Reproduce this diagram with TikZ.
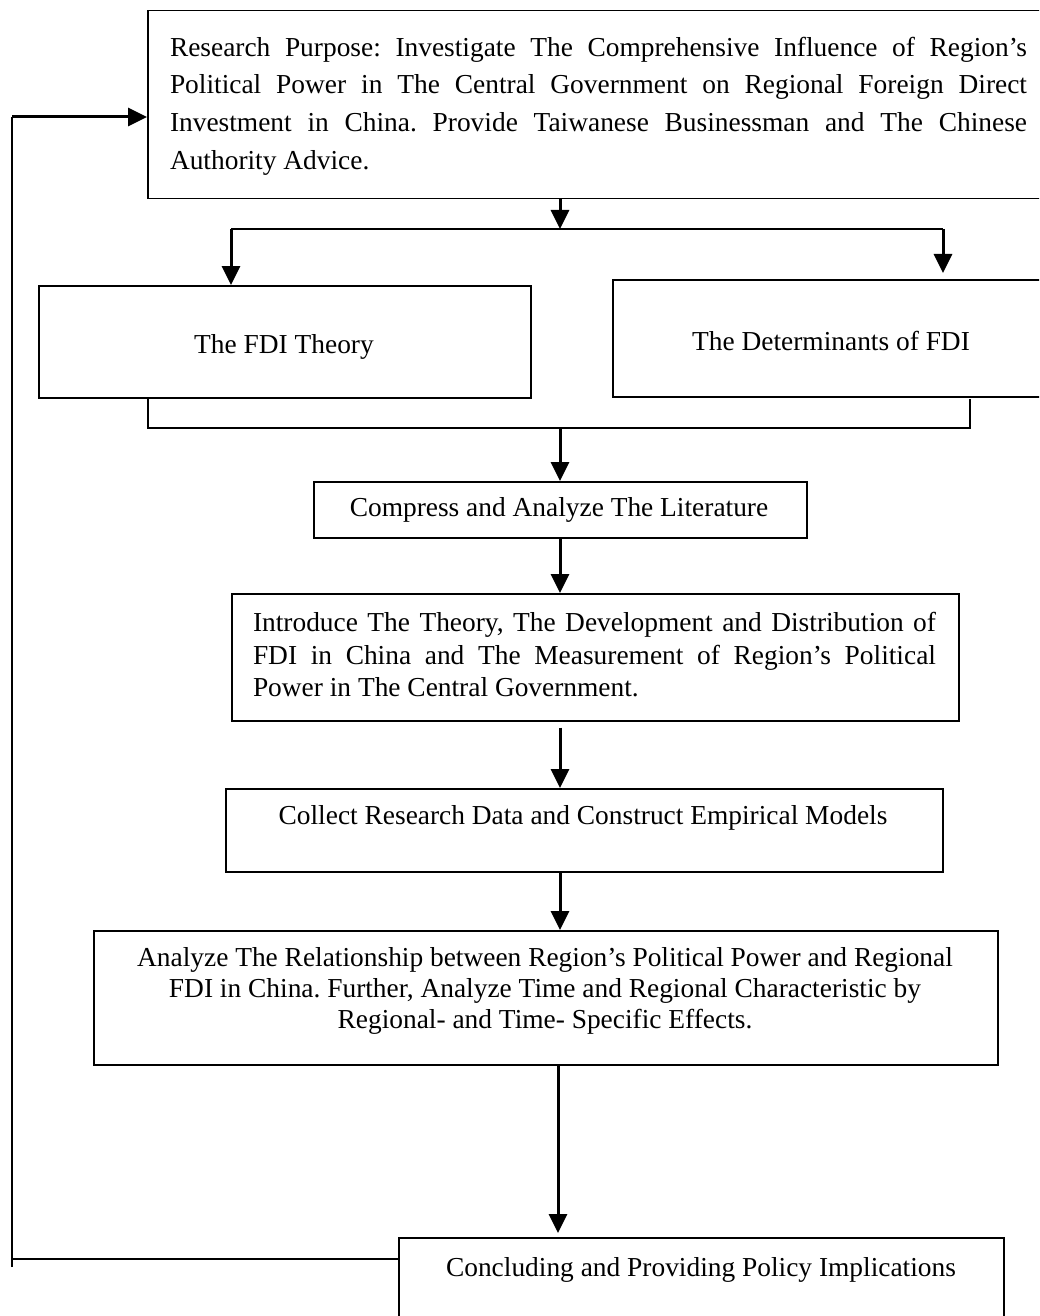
\documentclass[tikz,border=0pt]{standalone}
\usepackage{fontspec}
\setmainfont{Liberation Serif}
\usetikzlibrary{arrows.meta,calc}
\begin{document}
\frenchspacing
\begin{tikzpicture}[x=0.5pt,y=-0.5pt,
  box/.style={draw, line width=0.75pt, inner sep=0pt, anchor=north west},
  txt/.style={inner sep=0pt, font=\fontsize{13.7}{16}\selectfont},
  arr/.style={line width=1.5pt, -{Triangle[length=9.5pt,width=9pt]}},
  thinline/.style={line width=0.75pt},
  fbline/.style={line width=0.6pt}]
\useasboundingbox (0,0) rectangle (1039,1316);
\clip (0,0) rectangle (1039,1316);
% boxes
\node[box, minimum width=451.5pt, minimum height=94pt] (top) at (147,10) {};
\node[box, minimum width=246pt, minimum height=56pt] (fdi) at (38,285) {};
\node[box, minimum width=219pt, minimum height=58.5pt] (det) at (612,279) {};
\node[box, minimum width=246.5pt, minimum height=28pt] (comp) at (313,481) {};
\node[box, minimum width=363.5pt, minimum height=63.5pt] (intro) at (231,593) {};
\node[box, minimum width=358.5pt, minimum height=41.5pt] (coll) at (225,788) {};
\node[box, minimum width=452pt, minimum height=67pt] (anal) at (93,930) {};
\node[box, minimum width=302.5pt, minimum height=55pt] (concl) at (398,1237) {};
% texts
\node[txt, text width=428.5pt, align=justify, font=\fontsize{13.7}{18.85}\selectfont] (toptxt) at (598.5,106) {Research Purpose: Investigate The Comprehensive Influence of Region’s\linebreak Political Power in The Central Government on Regional Foreign Direct\linebreak Investment in China. Provide Taiwanese Businessman and The Chinese\linebreak Authority Advice.};
\node[txt] (fditxt) at (284,347) {The FDI Theory};
\node[txt] (dettxt) at (831,341) {The Determinants of FDI};
\node[txt] (comptxt) at (559,510) {Compress and Analyze The Literature};
\node[txt, text width=341.5pt, align=justify, font=\fontsize{13.7}{16.25}\selectfont] (introtxt) at (594.5,655) {Introduce The Theory, The Development and Distribution of\linebreak FDI in China and The Measurement of Region’s Political\linebreak Power in The Central Government.};
\node[txt] (colltxt) at (583,818) {Collect Research Data and Construct Empirical Models};
\node[txt, align=center, font=\fontsize{13.7}{15.5}\selectfont] (analtxt) at (545,991) {Analyze The Relationship between Region’s Political Power and Regional\\FDI in China. Further, Analyze Time and Regional Characteristic by\\Regional- and Time- Specific Effects.};
\node[txt] (concltxt) at (701,1270) {Concluding and Providing Policy Implications};
% helper coordinates
\coordinate (jt) at (560,229);
\coordinate (jl) at (231,229);
\coordinate (jr) at (943,229);
\coordinate (jrtip) at (943,273);
\coordinate (bl) at (148,399);
\coordinate (br) at (970,399);
\coordinate (bm) at (560,428);
\coordinate (lowx) at (558,0);
\coordinate (fb) at (12,1259);
\coordinate (fbend) at (12,1267);
\coordinate (ft) at (12,117);
% connectors
\draw[arr] (top.south -| jt) -- (jt);
\draw[thinline] (jl) -- (jr);
\draw[arr] (jl) -- (jl |- fdi.north);
\draw[arr] (jr) -- (jrtip);
\draw[thinline] (bl) -- (bl |- bm) -- (br |- bm) -- (br);
\draw[arr] (bm) -- (bm |- comp.north);
\draw[arr] (comp.south -| bm) -- (intro.north -| bm);
\draw[arr] ($(intro.south -| bm)+(0,6)$) -- (coll.north -| bm);
\draw[arr] (coll.south -| bm) -- (anal.north -| bm);
\draw[arr] (anal.south -| lowx) -- ($(concl.north -| lowx)+(0,-4)$);
\draw[thinline] (concl.north west |- fb) -- (fb);
\draw[fbline] (fbend) -- (ft);
\draw[arr] (ft) -- (ft -| top.west);
\end{tikzpicture}
\end{document}
